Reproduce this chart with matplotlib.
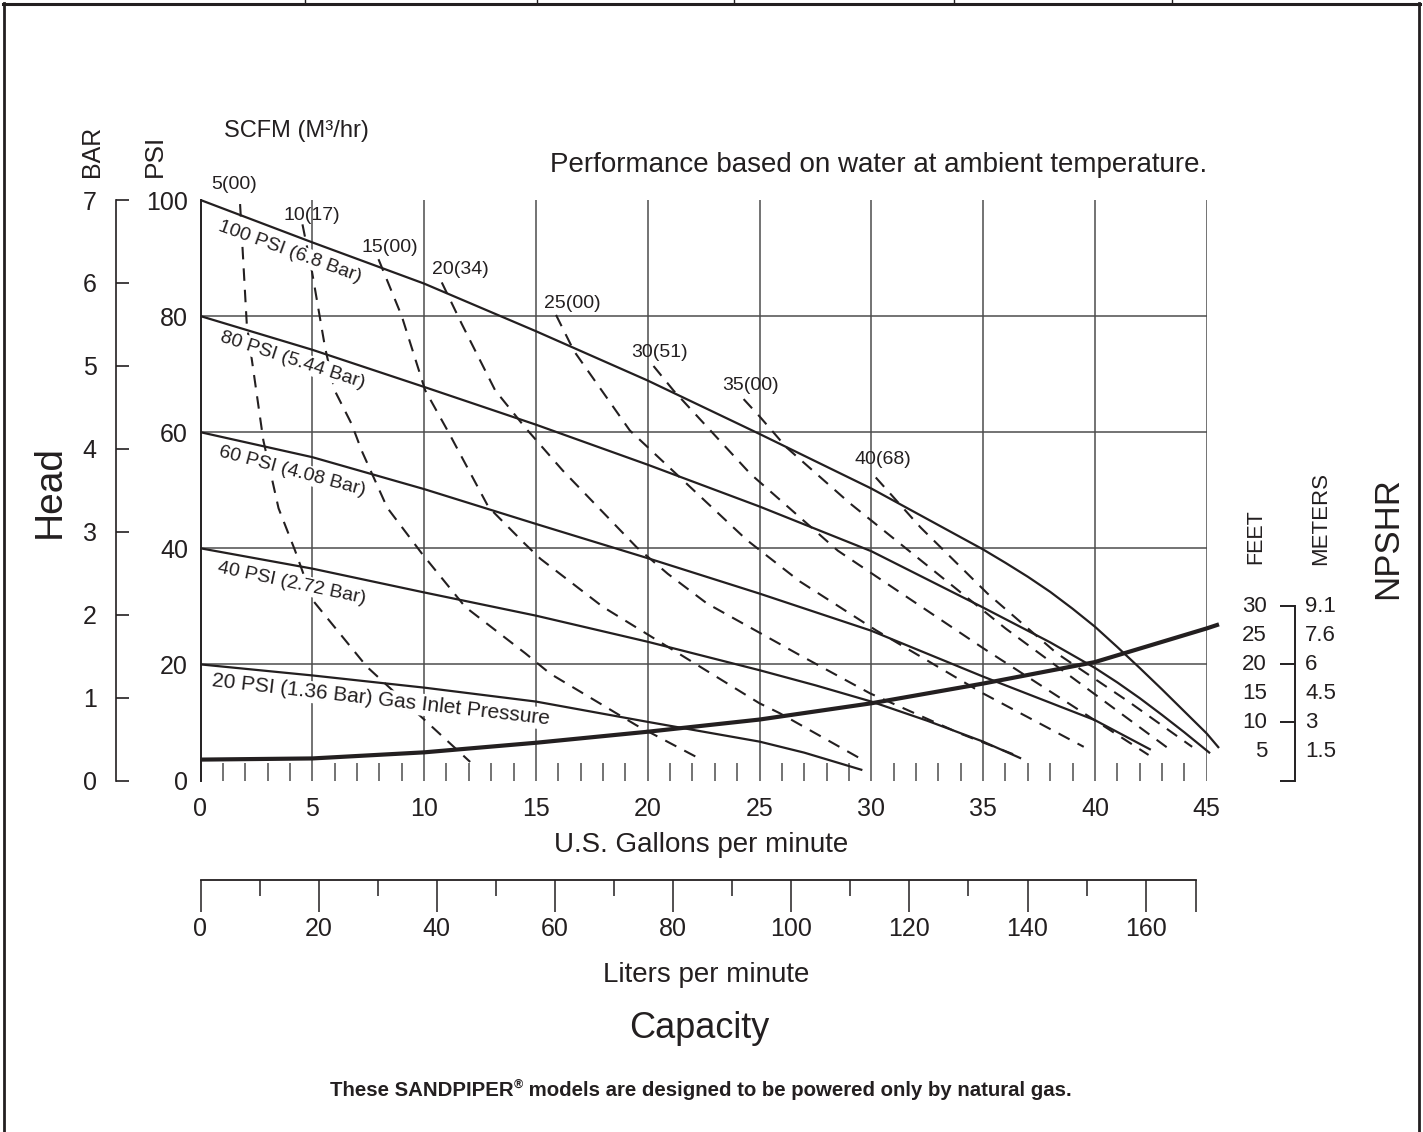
import matplotlib
matplotlib.use('Agg')
import matplotlib.pyplot as plt
from matplotlib.lines import Line2D
from matplotlib.ticker import FixedLocator, NullFormatter
import matplotlib.transforms as mtransforms

plt.rcParams['font.family'] = ['Liberation Sans', 'DejaVu Sans']

INK = '#231f20'
GRID = '#4d4d4d'

# ---------------- data ----------------
gpm_ticks = [0, 5, 10, 15, 20, 25, 30, 35, 40, 45]
gpm_minor = [i for i in range(1, 45) if i % 5 != 0]
psi_ticks = [0, 20, 40, 60, 80, 100]
psi_grid = [20, 40, 60, 80]
bar_ticks = [0, 1, 2, 3, 4, 5, 6, 7]
lpm_ticks = [0, 20, 40, 60, 80, 100, 120, 140, 160]
lpm_minor = [10, 30, 50, 70, 90, 110, 130, 150]
lpm_end = 168.5
LPM_PER_GPM = 3.785

feet_ticks = [0, 10, 20, 30]
feet_labels = [30, 25, 20, 15, 10, 5]
meter_labels = ['9.1', '7.6', '6', '4.5', '3', '1.5']

# gas inlet pressure curves (gpm, psi head)
p100_x = [0, 5, 10, 15, 20, 25, 30, 35, 36, 37, 38, 39, 40, 41, 42, 43, 44, 45, 45.55]
p100_y = [100, 92.7, 85.6, 77.4, 68.9, 59.7, 50.3, 39.8, 37.5, 35.1, 32.5, 29.6, 26.5,
          23.0, 19.4, 15.7, 11.9, 8.1, 5.6]
p80_x = [0, 5, 10, 15, 20, 25, 30, 35, 38, 40, 41, 42, 43, 44, 45.15]
p80_y = [80, 74.2, 67.8, 61.3, 54.4, 47.2, 39.5, 29.8, 23.8, 19.4, 16.9, 14.2, 11.3, 8.3, 4.7]
p60_x = [0, 5, 10, 15, 20, 25, 30, 35, 40, 42.5]
p60_y = [60, 55.7, 50.2, 44.2, 38.3, 32.2, 25.8, 17.9, 10.4, 5.3]
p40_x = [0, 5, 10, 15, 20, 25, 27.5, 30, 32.5, 35, 36.7]
p40_y = [40, 36.5, 32.4, 28.4, 23.9, 19.0, 16.4, 13.6, 10.3, 6.7, 3.8]
p20_x = [0, 5, 10, 15, 20, 25, 27, 29.6]
p20_y = [20, 18.1, 16.0, 13.6, 10.1, 6.7, 4.8, 1.8]

# NPSHR (feet)
npshr_x = [0, 5, 10, 15, 20, 25, 30, 35, 40, 45, 45.55]
npshr_y = [3.6, 3.8, 4.85, 6.5, 8.4, 10.5, 13.3, 16.7, 20.4, 26.2, 26.9]

# air consumption (SCFM) curves
s5_x = [1.77, 2.07, 2.81, 3.49, 4.23, 5.03, 7.44, 12.06]
s5_y = [99.3, 78.6, 58.6, 46.9, 39.6, 31.0, 19.6, 3.2]
s10_x = [4.56, 4.98, 5.57, 6.0, 6.76, 7.21, 8.35, 9.9, 11.84, 14.53, 15.64, 19.5, 22.3]
s10_y = [95.8, 87.8, 74.6, 67.2, 61.4, 56.8, 47.0, 39.1, 29.9, 21.9, 18.4, 9.5, 3.8]
s15_x = [7.96, 9.0, 10.05, 11.09, 12.88, 14.5, 15.2, 18.0, 25.0, 25.9, 29.5]
s15_y = [89.8, 80.0, 67.2, 60.0, 47.1, 40.8, 38.2, 29.9, 13.3, 11.6, 3.8]
s20_x = [10.79, 11.69, 13.18, 14.52, 16.2, 19.5, 20.9, 22.65, 26.8, 29.95, 33.97, 36.7]
s20_y = [85.8, 78.6, 67.2, 60.8, 53.4, 40.2, 35.6, 30.5, 21.6, 15.0, 8.1, 4.0]
s25_x = [15.9, 16.7, 19.2, 24.44, 26.8, 30.2, 35.0, 39.5]
s25_y = [80.2, 74.0, 60.3, 41.4, 34.3, 25.9, 15.0, 5.8]
s30_x = [20.26, 21.15, 24.6, 28.5, 35.0, 42.4]
s30_y = [71.4, 67.2, 52.8, 39.6, 22.8, 4.4]
s35_x = [24.29, 25.03, 26.2, 29.06, 36.0, 43.4]
s35_y = [65.7, 62.6, 57.4, 47.7, 26.2, 5.2]
s40_x = [30.2, 32.2, 35.2, 38.3, 41.5, 44.35]
s40_y = [52.2, 43.6, 32.2, 21.9, 13.6, 5.8]

scfm_labels = ['5(00)', '10(17)', '15(00)', '20(34)', '25(00)', '30(51)', '35(00)', '40(68)']
scfm_label_px = [(234.5, 184.5), (311.5, 215), (390, 247.5), (460, 269.5),
                 (572.5, 303.5), (660, 352.5), (751, 385.5), (882.5, 459.5)]

psi_curve_labels = ['100 PSI (6.8 Bar)', '80 PSI (5.44 Bar)', '60 PSI (4.08 Bar)',
                    '40 PSI (2.72 Bar)', '20 PSI (1.36 Bar) Gas Inlet Pressure']
psi_label_px = [(290, 252), (293, 360), (292, 471), (292, 583), (381, 700)]
psi_label_rot = [-20, -18, -15, -12, -6.5]
psi_label_size = [14, 14, 14, 14, 15]

# ---------------- figure ----------------
W, H = 1423, 1132
fig = plt.figure(figsize=(W / 100, H / 100), dpi=100)
fig.patch.set_facecolor('white')


def fx(px):
    return px / W


def fy(py):
    return 1 - py / H


AX_L, AX_R, AX_T, AX_B = 200.5, 1206.7, 200.0, 780.5
ax = fig.add_axes([fx(AX_L), fy(AX_B), (AX_R - AX_L) / W, (AX_B - AX_T) / H])
ax.set_xlim(0, 45)
ax.set_ylim(0, 100)
for s in ['top', 'right', 'bottom']:
    ax.spines[s].set_visible(False)
ax.spines['left'].set_color(INK)
ax.spines['left'].set_linewidth(1.4)

for g in gpm_ticks[1:]:
    ax.axvline(g, color=GRID, lw=1.1, zorder=1)
for p in psi_grid:
    ax.axhline(p, color=GRID, lw=1.1, zorder=1)

ax.set_xticks(gpm_ticks)
ax.set_xticklabels([str(v) for v in gpm_ticks])
ax.xaxis.set_minor_locator(FixedLocator(gpm_minor))
ax.tick_params(axis='x', which='major', length=0, pad=12, labelsize=18, labelcolor=INK)
ax.tick_params(axis='x', which='minor', direction='in', length=13, width=1.1, color=GRID)
ax.set_yticks(psi_ticks)
ax.set_yticklabels([str(v) for v in psi_ticks])
ax.tick_params(axis='y', length=0, pad=9, labelsize=18, labelcolor=INK)

# curves
for xs, ys in [(p100_x, p100_y), (p80_x, p80_y), (p60_x, p60_y), (p40_x, p40_y), (p20_x, p20_y)]:
    ax.plot(xs, ys, color=INK, lw=1.6, clip_on=False, zorder=3, solid_capstyle='butt',
            solid_joinstyle='round')
ax.plot(npshr_x, npshr_y, color=INK, lw=3.0, clip_on=False, zorder=3, solid_capstyle='butt',
        solid_joinstyle='round')
for xs, ys in [(s5_x, s5_y), (s10_x, s10_y), (s15_x, s15_y), (s20_x, s20_y),
               (s25_x, s25_y), (s30_x, s30_y), (s35_x, s35_y), (s40_x, s40_y)]:
    ax.plot(xs, ys, color=INK, lw=1.5, ls=(0, (6, 4.3)), clip_on=False, zorder=2)

# pressure curve labels
for lab, (px, py), rot, fs in zip(psi_curve_labels, psi_label_px, psi_label_rot, psi_label_size):
    fig.text(fx(px), fy(py), lab, fontsize=fs, rotation=rot, ha='center', va='center',
             rotation_mode='anchor', color=INK, zorder=5,
             bbox=dict(facecolor='white', edgecolor='none', pad=1.0))

# scfm labels
for lab, (px, py) in zip(scfm_labels, scfm_label_px):
    fig.text(fx(px), fy(py), lab, fontsize=14, ha='center', va='center', color=INK)

# BAR axis
axb = fig.add_axes([fx(116), fy(AX_B), 0.0005, (AX_B - AX_T) / H])
axb.set_ylim(0, 7)
axb.set_xticks([])
for s in ['top', 'right', 'bottom']:
    axb.spines[s].set_visible(False)
axb.spines['left'].set_color(INK)
axb.spines['left'].set_linewidth(1.2)
axb.patch.set_visible(False)
axb.set_yticks(bar_ticks)
axb.set_yticklabels([str(v) for v in bar_ticks])
axb.tick_params(axis='y', direction='in', length=9, width=1.2, color=INK, pad=14,
                labelsize=18, labelcolor=INK)

# NPSHR bracket axis (feet on same scale as head in psi)
axn = fig.add_axes([fx(1295), fy(AX_B), 0.0005, (AX_B - AX_T) / H])
axn.set_ylim(0, 100)
axn.set_xticks([])
for s in ['top', 'right', 'bottom']:
    axn.spines[s].set_visible(False)
axn.spines['left'].set_color(INK)
axn.spines['left'].set_linewidth(1.4)
axn.spines['left'].set_bounds(0, 30)
axn.patch.set_visible(False)
axn.set_yticks(feet_ticks)
axn.yaxis.set_major_formatter(NullFormatter())
axn.tick_params(axis='y', direction='out', length=11, width=1.4, color=INK)
tr = mtransforms.blended_transform_factory(fig.transFigure, axn.transData)
for f, m in zip(feet_labels, meter_labels):
    axn.text(fx(1267), f, str(f), transform=tr, ha='right', va='center', fontsize=16, color=INK)
    axn.text(fx(1305), f, m, transform=tr, ha='left', va='center', fontsize=16, color=INK)

# Liters per minute axis
axl = fig.add_axes([fx(AX_L), fy(880), (AX_R - AX_L) / W, 0.0005])
axl.set_xlim(0, 45 * LPM_PER_GPM)
axl.set_yticks([])
for s in ['top', 'right', 'left']:
    axl.spines[s].set_visible(False)
axl.spines['bottom'].set_color(INK)
axl.spines['bottom'].set_linewidth(1.3)
axl.spines['bottom'].set_bounds(0, lpm_end)
axl.patch.set_visible(False)
axl.set_xticks(lpm_ticks + [lpm_end])
axl.set_xticklabels([str(v) for v in lpm_ticks] + [''])
axl.xaxis.set_minor_locator(FixedLocator(lpm_minor))
axl.tick_params(axis='x', which='major', direction='out', length=23, width=1.1, color=INK,
                pad=4, labelsize=18, labelcolor=INK)
axl.tick_params(axis='x', which='minor', direction='out', length=11.5, width=1.1, color=INK)

# texts
fig.text(fx(155), fy(156), 'PSI', rotation=90, fontsize=19, ha='center', va='center', color=INK)
fig.text(fx(92), fy(151), 'BAR', rotation=90, fontsize=18, ha='center', va='center', color=INK)
fig.text(fx(296), fy(131), 'SCFM (M³/hr)', fontsize=17, ha='center', va='center', color=INK)
fig.text(fx(879), fy(165), 'Performance based on water at ambient temperature.', fontsize=20,
         ha='center', va='center', color=INK)
fig.text(fx(50), fy(491), 'Head', rotation=90, fontsize=28, ha='center', va='center', color=INK)
fig.text(fx(1388), fy(538), 'NPSHR', rotation=90, fontsize=25, ha='center', va='center', color=INK)
fig.text(fx(1256), fy(537), 'FEET', rotation=90, fontsize=15.5, ha='center', va='center', color=INK)
fig.text(fx(1321), fy(519), 'METERS', rotation=90, fontsize=16, ha='center', va='center', color=INK)
fig.text(fx(701), fy(845), 'U.S. Gallons per minute', fontsize=20, ha='center', va='center', color=INK)
fig.text(fx(706), fy(975), 'Liters per minute', fontsize=20, ha='center', va='center', color=INK)
fig.text(fx(699), fy(1028), 'Capacity', fontsize=26, ha='center', va='center', color=INK)

# footer with superscript registered mark
foot_fam = ['Liberation Sans Narrow', 'Liberation Sans', 'DejaVu Sans']
t1 = fig.text(0, fy(1096), 'These SANDPIPER', fontsize=14.7, fontweight='bold', family=foot_fam,
              ha='left', va='baseline', color=INK)
t2 = fig.text(0, fy(1088), '®', fontsize=9, fontweight='bold', family=foot_fam,
              ha='left', va='baseline', color=INK)
t3 = fig.text(0, fy(1096), ' models are designed to be powered only by natural gas.', fontsize=14.7,
              fontweight='bold', family=foot_fam, ha='left', va='baseline', color=INK)
fig.canvas.draw()
r = fig.canvas.get_renderer()
w1 = t1.get_window_extent(r).width
w2 = t2.get_window_extent(r).width
w3 = t3.get_window_extent(r).width
start = 700.5 - (w1 + w2 + w3) / 2
t1.set_x(fx(start))
t2.set_x(fx(start + w1))
t3.set_x(fx(start + w1 + w2))

# outer frame
frame_kw = dict(color=INK, lw=2.0, transform=fig.transFigure)
fig.add_artist(Line2D([fx(4), fx(4)], [fy(3), fy(1132)], **frame_kw))
fig.add_artist(Line2D([fx(1419), fx(1419)], [fy(3), fy(1132)], **frame_kw))
fig.add_artist(Line2D([fx(3), fx(1420)], [fy(4), fy(4)], color=INK, lw=2.2, transform=fig.transFigure))
for dx in [305, 537, 734, 954, 1172]:
    fig.add_artist(Line2D([fx(dx), fx(dx)], [fy(0), fy(4)], color=INK, lw=1.0, transform=fig.transFigure))

fig.savefig('out.png', dpi=100, facecolor='white')
